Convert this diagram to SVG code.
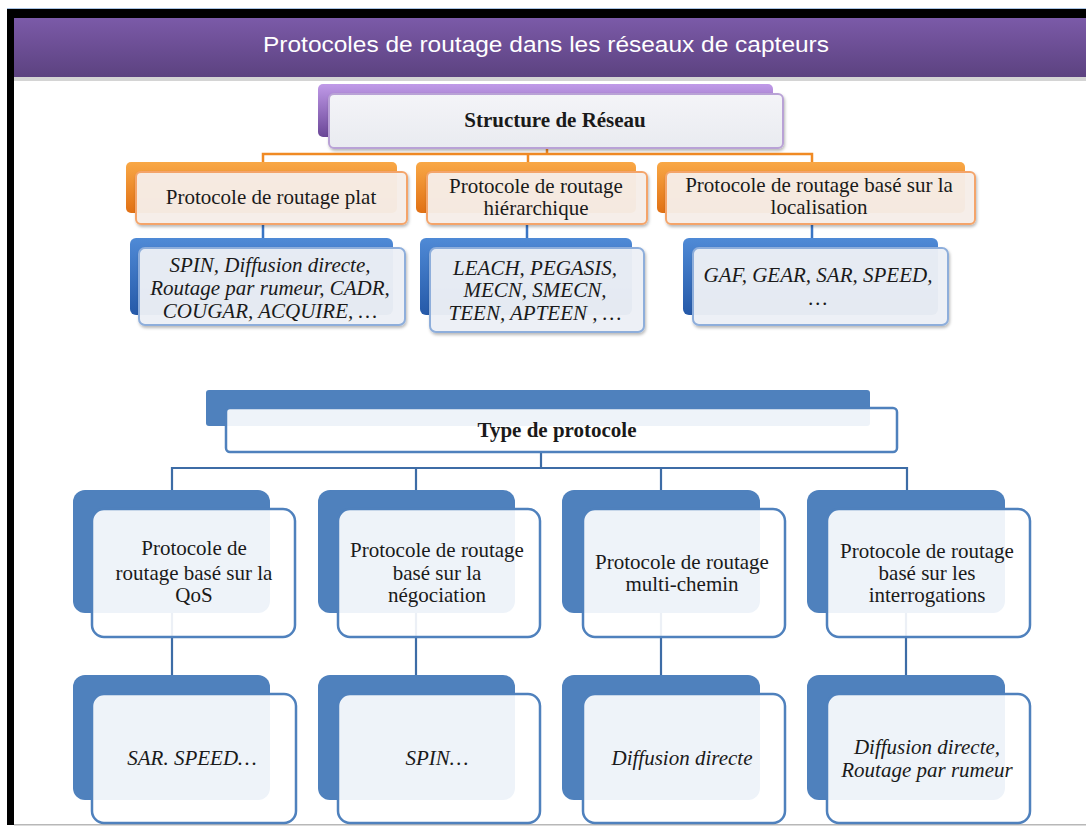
<svg xmlns="http://www.w3.org/2000/svg" width="1086" height="827" viewBox="0 0 1086 827">
  <defs>
    <linearGradient id="gHeader" x1="0" y1="0" x2="0" y2="1">
      <stop offset="0" stop-color="#7b5aa8"/>
      <stop offset="1" stop-color="#5c4280"/>
    </linearGradient>
    <linearGradient id="gPurple" x1="0" y1="0" x2="0" y2="1">
      <stop offset="0" stop-color="#c09ae8"/>
      <stop offset="1" stop-color="#6a4697"/>
    </linearGradient>
    <linearGradient id="gOrange" x1="0" y1="0" x2="0" y2="1">
      <stop offset="0" stop-color="#f9a846"/>
      <stop offset="1" stop-color="#e07014"/>
    </linearGradient>
    <linearGradient id="gBlue" x1="0" y1="0" x2="0" y2="1">
      <stop offset="0" stop-color="#4f8ad6"/>
      <stop offset="1" stop-color="#2559a8"/>
    </linearGradient>
    <linearGradient id="gLight" x1="0" y1="0" x2="0" y2="1">
      <stop offset="0" stop-color="#f4f4f8"/>
      <stop offset="1" stop-color="#e9ebf0"/>
    </linearGradient>
    <filter id="shadow" x="-5%" y="-10%" width="110%" height="130%">
      <feDropShadow dx="1" dy="2" stdDeviation="1.5" flood-color="#000" flood-opacity="0.28"/>
    </filter>
    <style>
      .txt { font-family: "Liberation Serif", "Times New Roman", serif; font-size: 21px; fill: #1a1a1a; text-anchor: middle; }
      .it { font-style: italic; }
      .bold { font-weight: bold; }
      .back-p { fill: url(#gPurple); }
      .back-o { fill: url(#gOrange); }
      .back-b { fill: url(#gBlue); }
      .back-s { fill: #4f81bd; }
      .front-p { fill: url(#gLight); stroke: #b9a2d6; stroke-width: 2; filter: url(#shadow); }
      .front-o { fill: #f8efe9; fill-opacity: 0.95; stroke: #f4a46a; stroke-width: 2; filter: url(#shadow); }
      .front-b { fill: #eef1f7; fill-opacity: 0.95; stroke: #8eaedb; stroke-width: 2; filter: url(#shadow); }
      .front-s { fill: #ffffff; fill-opacity: 0.9; stroke: #4f81bd; stroke-width: 2.5; }
      .con-o { fill: none; stroke: #f08a24; stroke-width: 2.5; }
      .con-b { fill: none; stroke: #3a75c4; stroke-width: 2.5; }
      .con-s { fill: none; stroke: #3d6ca6; stroke-width: 2.2; }
    </style>
  </defs>

  <!-- page frame -->
  <rect x="0" y="0" width="1086" height="827" fill="#ffffff"/>
  <rect x="7" y="8" width="1079" height="1.5" fill="#a9c4e4"/>
  <rect x="7" y="9" width="1079" height="9" fill="#000000"/>
  <rect x="7" y="9" width="7" height="816" fill="#000000"/>
  <rect x="14" y="824" width="1072" height="1.5" fill="#b8b8b8"/>

  <!-- title bar -->
  <g id="title">
    <rect x="14" y="77" width="1072" height="4" fill="#d4d4d4"/>
    <rect x="14" y="18" width="1072" height="59" fill="url(#gHeader)"/>
    <text x="546" y="52" font-family="Liberation Sans, Arial, sans-serif" font-size="22" fill="#ffffff" text-anchor="middle" textLength="566" lengthAdjust="spacingAndGlyphs">Protocoles de routage dans les réseaux de capteurs</text>
  </g>

  <!-- connectors -->
  <g id="connectors">
    <path class="con-o" d="M547,148 V154 M263,163 V154 H812 V163 M528,154 V163"/>
    <path class="con-b" d="M263,224 V240 M527,224 V240 M812,224 V240"/>
    <path class="con-s" d="M541,452 V468 M172,491 V468 H907 V491 M416,468 V491 M661,468 V491"/>
    <path class="con-s" d="M172,612 V676 M416,612 V676 M661,612 V676 M906,612 V676"/>
  </g>

  <!-- network structure branch -->
  <g id="structure-reseau">
    <rect class="back-p" x="318" y="84" width="455" height="53" rx="5"/>
    <rect class="front-p" x="329" y="94" width="454" height="54" rx="5"/>
    <text class="txt bold" x="555" y="127" font-size="22">Structure de Réseau</text>
  </g>

  <g id="routage-plat">
    <rect class="back-o" x="126" y="162" width="271" height="51" rx="5"/>
    <rect class="front-o" x="136" y="172" width="271" height="52" rx="5"/>
    <text class="txt" x="271" y="204">Protocole de routage plat</text>
  </g>

  <g id="routage-hierarchique">
    <rect class="back-o" x="416" y="162" width="220" height="51" rx="5"/>
    <rect class="front-o" x="427" y="172" width="220" height="52" rx="5"/>
    <text class="txt" x="536" y="193">Protocole de routage</text>
    <text class="txt" x="536" y="215">hiérarchique</text>
  </g>

  <g id="routage-localisation">
    <rect class="back-o" x="657" y="162" width="308" height="51" rx="5"/>
    <rect class="front-o" x="666" y="172" width="309" height="52" rx="5"/>
    <text class="txt" x="819" y="192">Protocole de routage basé sur la</text>
    <text class="txt" x="819" y="214">localisation</text>
  </g>

  <g id="exemples-plat">
    <rect class="back-b" x="130" y="238" width="263" height="77" rx="6"/>
    <rect class="front-b" x="139" y="248" width="266" height="77" rx="6"/>
    <text class="txt it" x="270" y="272">SPIN, Diffusion directe,</text>
    <text class="txt it" x="270" y="295">Routage par rumeur, CADR,</text>
    <text class="txt it" x="270" y="318">COUGAR, ACQUIRE,  …</text>
  </g>

  <g id="exemples-hierarchique">
    <rect class="back-b" x="420" y="238" width="212" height="77" rx="6"/>
    <rect class="front-b" x="430" y="248" width="214" height="84" rx="6"/>
    <text class="txt it" x="535" y="275">LEACH, PEGASIS,</text>
    <text class="txt it" x="535" y="297">MECN, SMECN,</text>
    <text class="txt it" x="535" y="320">TEEN, APTEEN , …</text>
  </g>

  <g id="exemples-localisation">
    <rect class="back-b" x="683" y="238" width="255" height="77" rx="6"/>
    <rect class="front-b" x="693" y="248" width="255" height="77" rx="6"/>
    <text class="txt it" x="818" y="282">GAF, GEAR, SAR, SPEED,</text>
    <text class="txt it" x="818" y="305">…</text>
  </g>

  <!-- protocol type branch -->
  <g id="type-protocole">
    <rect class="back-s" x="206" y="390" width="664" height="36" rx="3"/>
    <rect class="front-s" x="226" y="408" width="671" height="44" rx="4"/>
    <text class="txt bold" x="557" y="437">Type de protocole</text>
  </g>

  <g id="qos">
    <rect class="back-s" x="73" y="490" width="197" height="123" rx="12"/>
    <rect class="front-s" x="92" y="509" width="203" height="128" rx="12"/>
    <text class="txt" x="194" y="555">Protocole de</text>
    <text class="txt" x="194" y="580">routage basé sur la</text>
    <text class="txt" x="194" y="602">QoS</text>
  </g>

  <g id="negociation">
    <rect class="back-s" x="318" y="490" width="197" height="123" rx="12"/>
    <rect class="front-s" x="338" y="509" width="202" height="128" rx="12"/>
    <text class="txt" x="437" y="557">Protocole de routage</text>
    <text class="txt" x="437" y="580">basé sur la</text>
    <text class="txt" x="437" y="602">négociation</text>
  </g>

  <g id="multi-chemin">
    <rect class="back-s" x="562" y="490" width="198" height="123" rx="12"/>
    <rect class="front-s" x="583" y="509" width="202" height="128" rx="12"/>
    <text class="txt" x="682" y="569">Protocole de routage</text>
    <text class="txt" x="682" y="591">multi-chemin</text>
  </g>

  <g id="interrogations">
    <rect class="back-s" x="807" y="490" width="198" height="123" rx="12"/>
    <rect class="front-s" x="827" y="509" width="203" height="128" rx="12"/>
    <text class="txt" x="927" y="558">Protocole de routage</text>
    <text class="txt" x="927" y="580">basé sur les</text>
    <text class="txt" x="927" y="602">interrogations</text>
  </g>

  <g id="exemple-qos">
    <rect class="back-s" x="73" y="675" width="197" height="125" rx="12"/>
    <rect class="front-s" x="92" y="694" width="204" height="129" rx="12"/>
    <text class="txt it" x="192" y="765">SAR. SPEED…</text>
  </g>

  <g id="exemple-negociation">
    <rect class="back-s" x="318" y="675" width="197" height="125" rx="12"/>
    <rect class="front-s" x="338" y="694" width="202" height="129" rx="12"/>
    <text class="txt it" x="437" y="765">SPIN…</text>
  </g>

  <g id="exemple-multi-chemin">
    <rect class="back-s" x="562" y="675" width="198" height="125" rx="12"/>
    <rect class="front-s" x="583" y="694" width="202" height="129" rx="12"/>
    <text class="txt it" x="682" y="765">Diffusion directe</text>
  </g>

  <g id="exemple-interrogations">
    <rect class="back-s" x="807" y="675" width="198" height="125" rx="12"/>
    <rect class="front-s" x="827" y="694" width="203" height="129" rx="12"/>
    <text class="txt it" x="927" y="754">Diffusion directe,</text>
    <text class="txt it" x="927" y="777">Routage par rumeur</text>
  </g>
</svg>
